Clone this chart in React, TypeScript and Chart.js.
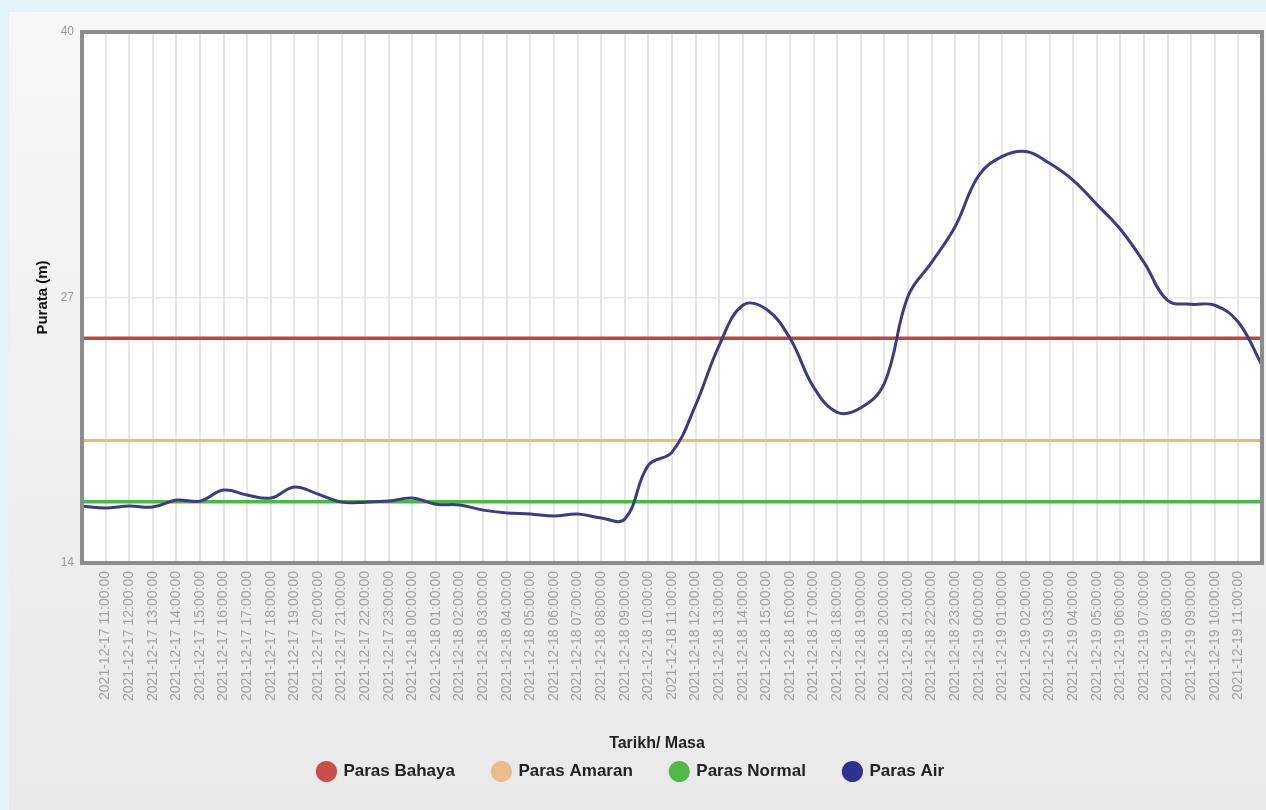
import React, { useEffect, useRef } from 'react';
import { Chart, registerables } from 'chart.js';

Chart.register(...registerables);

const LABELS: string[] = [
  '2021-12-17 10:00:00', '2021-12-17 11:00:00', '2021-12-17 12:00:00', '2021-12-17 13:00:00',
  '2021-12-17 14:00:00', '2021-12-17 15:00:00', '2021-12-17 16:00:00', '2021-12-17 17:00:00',
  '2021-12-17 18:00:00', '2021-12-17 19:00:00', '2021-12-17 20:00:00', '2021-12-17 21:00:00',
  '2021-12-17 22:00:00', '2021-12-17 23:00:00', '2021-12-18 00:00:00', '2021-12-18 01:00:00',
  '2021-12-18 02:00:00', '2021-12-18 03:00:00', '2021-12-18 04:00:00', '2021-12-18 05:00:00',
  '2021-12-18 06:00:00', '2021-12-18 07:00:00', '2021-12-18 08:00:00', '2021-12-18 09:00:00',
  '2021-12-18 10:00:00', '2021-12-18 11:00:00', '2021-12-18 12:00:00', '2021-12-18 13:00:00',
  '2021-12-18 14:00:00', '2021-12-18 15:00:00', '2021-12-18 16:00:00', '2021-12-18 17:00:00',
  '2021-12-18 18:00:00', '2021-12-18 19:00:00', '2021-12-18 20:00:00', '2021-12-18 21:00:00',
  '2021-12-18 22:00:00', '2021-12-18 23:00:00', '2021-12-19 00:00:00', '2021-12-19 01:00:00',
  '2021-12-19 02:00:00', '2021-12-19 03:00:00', '2021-12-19 04:00:00', '2021-12-19 05:00:00',
  '2021-12-19 06:00:00', '2021-12-19 07:00:00', '2021-12-19 08:00:00', '2021-12-19 09:00:00',
  '2021-12-19 10:00:00', '2021-12-19 11:00:00', '2021-12-19 12:00:00',
];

const PARAS_AIR: number[] = [
  16.79, 16.69, 16.79, 16.74, 17.08, 17.03, 17.57, 17.33, 17.18, 17.72, 17.37, 16.98, 16.98,
  17.03, 17.18, 16.88, 16.84, 16.59, 16.45, 16.40, 16.30, 16.40, 16.20, 16.15,
  18.79, 19.43, 21.73, 24.66, 26.62, 26.42, 25.0, 22.61, 21.38, 21.6, 22.80,
  27.06, 28.72, 30.48, 32.98, 33.91, 34.15, 33.57, 32.74, 31.56, 30.34, 28.72, 26.86, 26.67,
  26.62, 25.79, 23.68,
];

const PARAS_BAHAYA = 25;
const PARAS_AMARAN = 20;
const PARAS_NORMAL = 17;

const Y_MIN = 14;
const Y_MAX = 40;
const Y_STEP = 13;

const FONT = "'Liberation Sans', Arial, sans-serif";

const bgPlugin = {
  id: 'bgPlugin',
  beforeDraw(chart: any) {
    const { ctx, width, height, chartArea } = chart;
    ctx.save();
    ctx.fillStyle = '#e4f2fb';
    ctx.fillRect(0, 0, width, height);
    const g = ctx.createLinearGradient(0, 12, 0, height);
    g.addColorStop(0, '#f7f7f7');
    g.addColorStop(1, '#e9e9e9');
    ctx.fillStyle = g;
    ctx.fillRect(9, 12, width - 9, height - 12);
    ctx.fillStyle = '#ffffff';
    ctx.fillRect(chartArea.left, chartArea.top, chartArea.right - chartArea.left, chartArea.bottom - chartArea.top);
    ctx.restore();
  },
  afterDraw(chart: any) {
    const { ctx, chartArea } = chart;
    ctx.save();
    ctx.strokeStyle = '#8c8c8c';
    ctx.lineWidth = 4;
    ctx.strokeRect(chartArea.left, chartArea.top, chartArea.right - chartArea.left, chartArea.bottom - chartArea.top);
    ctx.fillStyle = '#222222';
    ctx.font = `bold 16px ${FONT}`;
    ctx.textAlign = 'center';
    ctx.textBaseline = 'middle';
    ctx.fillText('Tarikh/ Masa', 657, 744);
    ctx.restore();
  },
};

export default function App() {
  const ref = useRef<HTMLCanvasElement | null>(null);

  useEffect(() => {
    document.body.style.margin = '0';
    document.body.style.overflow = 'hidden';
    const canvas = ref.current;
    if (!canvas) return;
    const chart = new Chart(canvas, {
      type: 'line',
      data: {
        labels: LABELS,
        datasets: [
          {
            label: 'Paras Bahaya',
            data: LABELS.map(() => PARAS_BAHAYA),
            borderColor: '#b8474a',
            backgroundColor: '#c8504a',
            borderWidth: 3.5,
            pointRadius: 0,
            order: 1,
          },
          {
            label: 'Paras Amaran',
            data: LABELS.map(() => PARAS_AMARAN),
            borderColor: '#e0be8a',
            backgroundColor: '#e9bd8c',
            borderWidth: 3,
            pointRadius: 0,
            order: 2,
          },
          {
            label: 'Paras Normal',
            data: LABELS.map(() => PARAS_NORMAL),
            borderColor: '#4cb748',
            backgroundColor: '#52b848',
            borderWidth: 3.5,
            pointRadius: 0,
            order: 3,
          },
          {
            label: 'Paras Air',
            data: PARAS_AIR,
            borderColor: '#3c3c80',
            backgroundColor: '#2e3192',
            borderWidth: 3,
            pointRadius: 0,
            tension: 0.4,
            order: 0,
          },
        ],
      },
      options: {
        responsive: false,
        animation: false,
        layout: { padding: { top: 32, right: 4, bottom: 20, left: 0 } },
        plugins: {
          tooltip: { enabled: false },
          legend: {
            position: 'bottom',
            labels: {
              usePointStyle: true,
              pointStyle: 'circle',
              boxHeight: 15,
              boxWidth: 17,
              padding: 38,
              color: '#222222',
              font: { family: FONT, size: 17, weight: 'bold' },
              sort: (a: any, b: any) => a.datasetIndex - b.datasetIndex,
              generateLabels: (c: any) =>
                Chart.defaults.plugins.legend.labels.generateLabels(c).map((it: any) => ({
                  ...it,
                  lineWidth: 0,
                  strokeStyle: it.fillStyle,
                })),
            },
          },
        },
        scales: {
          x: {
            grid: { color: '#e6e6e6', lineWidth: 2, drawTicks: false },
            border: { display: false },
            ticks: {
              autoSkip: false,
              maxRotation: 90,
              minRotation: 90,
              padding: 8,
              color: '#a0a0a0',
              font: { family: FONT, size: 14 },
              callback: (_v: any, i: number) => (i === 0 || i === LABELS.length - 1 ? '' : LABELS[i]),
            },
            afterFit: (s: any) => {
              s.height = 162;
              s.paddingLeft = 0;
              s.paddingRight = 0;
            },
          },
          y: {
            min: Y_MIN,
            max: Y_MAX,
            grid: { color: '#e6e6e6', lineWidth: 1.5, drawTicks: false },
            border: { display: false },
            ticks: {
              stepSize: Y_STEP,
              padding: 8,
              color: '#999999',
              font: { family: FONT, size: 12 },
            },
            title: {
              display: true,
              text: 'Purata (m)',
              color: '#111111',
              font: { family: FONT, size: 15, weight: 'bold' },
              padding: { top: 34, bottom: 0 },
            },
            afterFit: (s: any) => {
              s.width = 82;
              s.paddingTop = 0;
              s.paddingBottom = 0;
            },
          },
        },
      },
      plugins: [bgPlugin],
    });
    return () => chart.destroy();
  }, []);

  return (
    <div style={{ width: 1266, height: 810, position: 'relative' }}>
      <canvas ref={ref} width={1266} height={810} style={{ display: 'block' }} />
    </div>
  );
}
